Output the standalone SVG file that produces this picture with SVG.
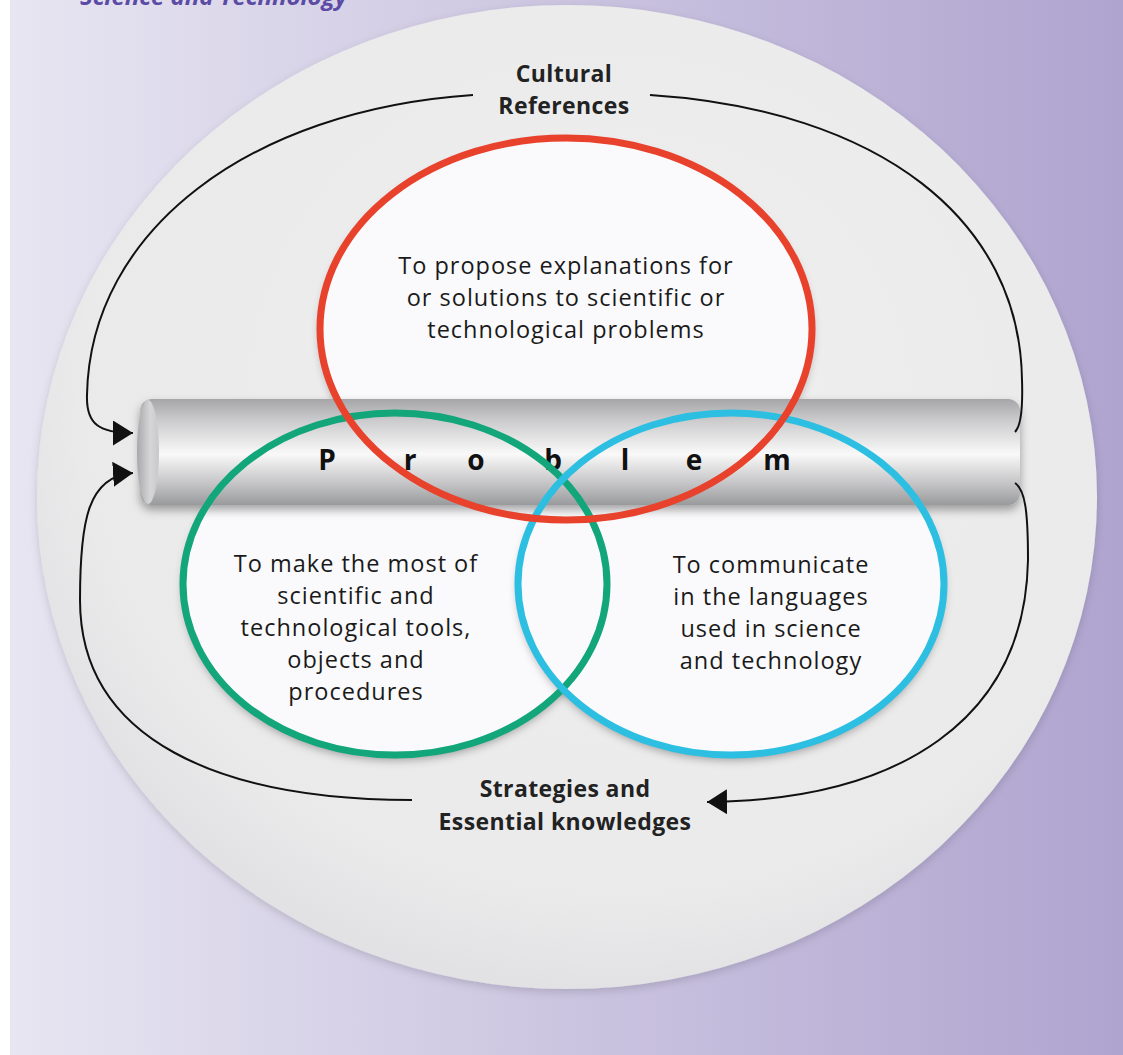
<svg xmlns="http://www.w3.org/2000/svg" width="1123" height="1055" viewBox="0 0 1123 1055">
<defs>
<linearGradient id="bg" x1="0" y1="0" x2="1" y2="0">
<stop offset="0" stop-color="#e8e6f2"/>
<stop offset="1" stop-color="#afa4cf"/>
</linearGradient>
<radialGradient id="disc" cx="0.55" cy="0.4" r="0.6">
<stop offset="0" stop-color="#efeff0"/>
<stop offset="0.85" stop-color="#eaeaeb"/>
<stop offset="1" stop-color="#e2e2e4"/>
</radialGradient>
<linearGradient id="cyl" x1="0" y1="0" x2="0" y2="1">
<stop offset="0" stop-color="#a6a6a8"/>
<stop offset="0.2" stop-color="#cbcbcd"/>
<stop offset="0.52" stop-color="#f9f9f9"/>
<stop offset="0.8" stop-color="#c4c4c6"/>
<stop offset="1" stop-color="#999a9c"/>
</linearGradient>
<linearGradient id="cap" x1="0" y1="0" x2="1" y2="0">
<stop offset="0" stop-color="#a8a8aa"/>
<stop offset="0.6" stop-color="#d6d6d8"/>
<stop offset="1" stop-color="#c8c8ca"/>
</linearGradient>
<filter id="sh" x="-10%" y="-10%" width="120%" height="125%">
<feDropShadow dx="0" dy="5" stdDeviation="5" flood-color="#000" flood-opacity="0.35"/>
</filter>
<filter id="soft" x="-5%" y="-5%" width="110%" height="110%">
<feDropShadow dx="0" dy="3" stdDeviation="4" flood-color="#000" flood-opacity="0.15"/>
</filter>
<marker id="ah" viewBox="0 0 20 25" refX="20" refY="12.5" markerWidth="20" markerHeight="25" markerUnits="userSpaceOnUse" orient="auto">
<path d="M0 0 L20 12.5 L0 25 Z" fill="#111"/>
</marker>
</defs>
<style>
.body{font-family:"Open Sans","Noto Sans","Liberation Sans",sans-serif;font-size:23.5px;letter-spacing:1px;fill:#1a1a1a;text-anchor:middle}
.lab{font-family:"Open Sans","Noto Sans","Liberation Sans",sans-serif;font-size:23px;letter-spacing:0.4px;font-weight:bold;fill:#222;text-anchor:middle}
.prob{font-family:"Open Sans","Liberation Sans",sans-serif;font-size:28px;font-weight:bold;fill:#111;text-anchor:middle}
.conn{fill:none;stroke:#111;stroke-width:2}
.ring{stroke-width:7;fill:none}
</style>
<rect x="0" y="0" width="1123" height="1055" fill="url(#bg)"/>
<rect x="0" y="0" width="10" height="1055" fill="#ffffff"/>
<text x="80" y="5" font-family="Open Sans, Liberation Sans, sans-serif" font-size="24" font-weight="bold" font-style="italic" fill="#5b4ba5">Science and Technology</text>
<g id="disc-bg">
<ellipse cx="567" cy="497" rx="530" ry="492" fill="url(#disc)" filter="url(#soft)"/>
</g>
<g id="fills">
<ellipse cx="566" cy="329" rx="246" ry="191" fill="#fafafc" filter="url(#sh)"/>
<ellipse cx="395" cy="584" rx="212" ry="171" fill="#fafafc" filter="url(#sh)"/>
<ellipse cx="731" cy="584" rx="213" ry="171" fill="#fafafc" filter="url(#sh)"/>
</g>
<g id="problem">
<rect x="140" y="399" width="880" height="106" rx="12" fill="url(#cyl)" filter="url(#sh)"/>
<ellipse cx="148" cy="452" rx="11" ry="52" fill="url(#cap)"/>
<text class="prob" x="327" y="470">P</text>
<text class="prob" x="410" y="470">r</text>
<text class="prob" x="476" y="470">o</text>
<text class="prob" x="553" y="470">b</text>
<text class="prob" x="625" y="470">l</text>
<text class="prob" x="694" y="470">e</text>
<text class="prob" x="777" y="470">m</text>
</g>
<g id="rings">
<ellipse class="ring" cx="395" cy="584" rx="212" ry="171" stroke="#12a67a"/>
<ellipse class="ring" cx="731" cy="584" rx="213" ry="171" stroke="#2dbfe2"/>
<ellipse class="ring" cx="566" cy="329" rx="246" ry="191" stroke="#e8412c"/>
</g>
<g id="node-explain">
<text class="body" x="566" y="274">To propose explanations for</text>
<text class="body" x="566" y="306">or solutions to scientific or</text>
<text class="body" x="566" y="338">technological problems</text>
</g>
<g id="node-tools">
<text class="body" x="356" y="572">To make the most of</text>
<text class="body" x="356" y="604">scientific and</text>
<text class="body" x="356" y="636">technological tools,</text>
<text class="body" x="356" y="668">objects and</text>
<text class="body" x="356" y="700">procedures</text>
</g>
<g id="node-communicate">
<text class="body" x="771" y="573">To communicate</text>
<text class="body" x="771" y="605">in the languages</text>
<text class="body" x="771" y="637">used in science</text>
<text class="body" x="771" y="669">and technology</text>
</g>
<g id="node-cultural">
<text class="lab" x="564" y="82">Cultural</text>
<text class="lab" x="564" y="114">References</text>
</g>
<g id="node-strategies">
<text class="lab" x="565" y="797">Strategies and</text>
<text class="lab" x="565" y="830">Essential knowledges</text>
</g>
<g id="connectors">
<path class="conn" d="M473 95 C250 110 90 230 87 395 C86 425 100 433 133 433" marker-end="url(#ah)"/>
<path class="conn" d="M412 800 C220 800 80 740 80 600 C80 520 88 476 133 473" marker-end="url(#ah)"/>
<path class="conn" d="M650 95 C880 110 1020 220 1022 380 C1023 410 1021 426 1015 432"/>
<path class="conn" d="M1015 483 C1025 490 1028 510 1028 560 C1025 720 900 800 707 802" marker-end="url(#ah)"/>
</g>
</svg>
